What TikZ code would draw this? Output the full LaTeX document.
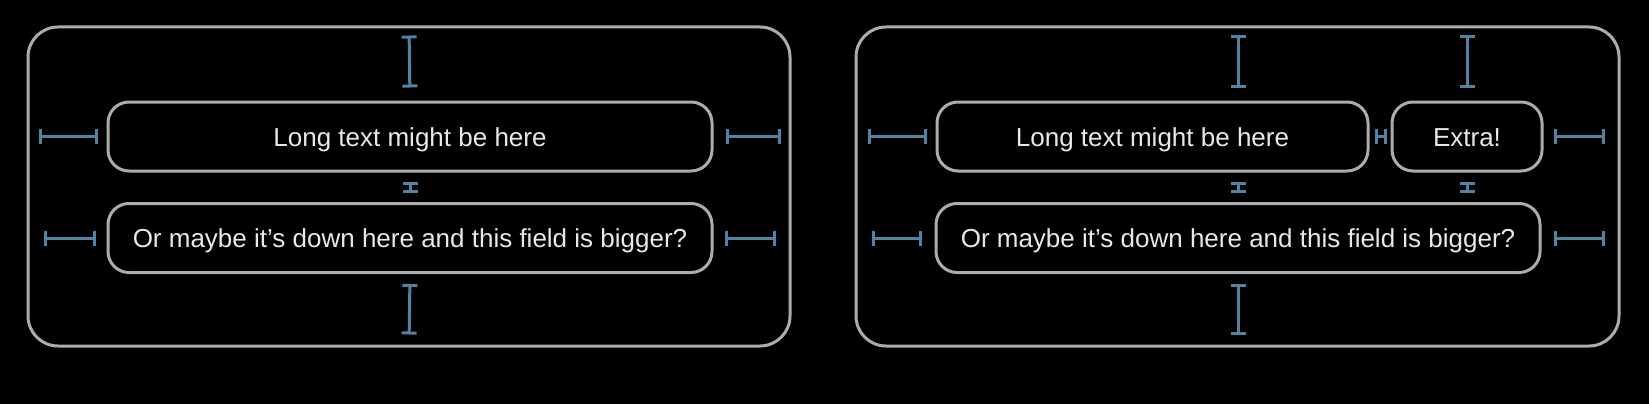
\documentclass[tikz,border=0pt]{standalone}
\usepackage{fontspec}
\setmainfont{Liberation Sans}
\usetikzlibrary{arrows.meta}
\definecolor{boxgrey}{RGB}{172,172,172}
\definecolor{spblue}{RGB}{84,130,163}
\definecolor{txt}{RGB}{232,232,232}
\begin{document}
\begin{tikzpicture}[x=1pt,y=-1pt,
  outerbox/.style={draw=boxgrey, line width=3pt, rounded corners=30pt, minimum width=762pt, minimum height=319pt, inner sep=0pt},
  field/.style={draw=boxgrey, line width=3pt, rounded corners=21pt, minimum height=69pt, inner sep=0pt, text=txt, font=\fontsize{26}{30}\selectfont, text height=19pt, text depth=0pt},
  spacer/.style={draw=spblue, line width=3pt, {Bar[width=15pt,line width=3pt]}-{Bar[width=15pt,line width=3pt]}},
]
\fill[black] (0,0) rectangle (1649,404);
\useasboundingbox (0,0) rectangle (1649,404);
% left panel
\node[outerbox] (oL) at (409,186.5) {};
\node[field, minimum width=604pt] (bL1) at (410,136.5) {Long text might be here};
\node[field, minimum width=604pt] (bL2) at (410,238) {Or maybe it’s down here and this field is bigger?};
\draw[spacer, shorten <=10pt, shorten >=13pt] (oL.north) -- (bL1.north);
\draw[spacer, shorten <=9.5pt, shorten >=9.5pt] (bL1.south) -- (bL2.north);
\draw[spacer, shorten <=10pt, shorten >=13pt] (bL2.south) -- (oL.south);
\draw[spacer, shorten <=12pt, shorten >=9pt] (oL.west |- bL1) -- (bL1.west);
\draw[spacer, shorten <=12pt, shorten >=11pt] (bL1.east) -- (oL.east |- bL1);
\draw[spacer, shorten <=17pt, shorten >=11pt] (oL.west |- bL2) -- (bL2.west);
\draw[spacer, shorten <=11pt, shorten >=16pt] (bL2.east) -- (oL.east |- bL2);
% right panel
\node[outerbox, minimum width=763pt] (oR) at (1237.5,186.5) {};
\node[field, minimum width=431pt] (bR1) at (1152.5,136.5) {Long text might be here};
\node[field, minimum width=150pt] (bE) at (1467,136.5) {Extra!};
\node[field, minimum width=604pt] (bR2) at (1238,238) {Or maybe it’s down here and this field is bigger?};
\draw[spacer, shorten <=10pt, shorten >=13pt] (bR2.north |- oR.north) -- (bR2.north |- bR1.north);
\draw[spacer, shorten <=10pt, shorten >=13pt] (bE.north |- oR.north) -- (bE.north);
\draw[spacer, shorten <=9.5pt, shorten >=9.5pt] (bR2.north |- bR1.south) -- (bR2.north);
\draw[spacer, shorten <=9.5pt, shorten >=9.5pt] (bE.south) -- (bE.south |- bR2.north);
\draw[spacer, shorten <=10pt, shorten >=13pt] (bR2.south) -- (bR2.south |- oR.south);
\draw[spacer, shorten <=5pt, shorten >=4pt] (bR1.east) -- (bE.west);
\draw[spacer, shorten <=13pt, shorten >=9pt] (oR.west |- bR1) -- (bR1.west);
\draw[spacer, shorten <=10pt, shorten >=16pt] (bE.east) -- (oR.east |- bE);
\draw[spacer, shorten <=17pt, shorten >=13pt] (oR.west |- bR2) -- (bR2.west);
\draw[spacer, shorten <=12pt, shorten >=16pt] (bR2.east) -- (oR.east |- bR2);
\end{tikzpicture}
\end{document}
